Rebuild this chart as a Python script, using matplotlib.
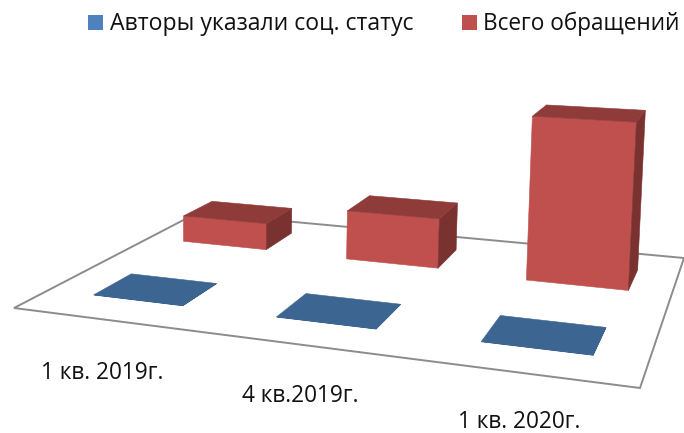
import numpy as np
import matplotlib
matplotlib.use("Agg")
import matplotlib.pyplot as plt
from matplotlib.patches import Polygon, Rectangle

categories = ["1 кв. 2019г.", "4 кв.2019г.", "1 кв. 2020г."]
series_names = ["Авторы указали соц. статус", "Всего обращений"]
status_values = [0.4, 0.4, 0.4]
total_values = [30, 54, 172]

# Layout of the perspective: floor corners in figure pixels and the vertical vanishing point
FLOOR = {"fl": (14, 308), "fr": (640, 388), "br": (684, 258), "bl": (197, 213)}
VANISH = (182, 9700)
BAR_D = 0.38
BAR_W_STATUS, BAR_W_TOTAL = 0.5, 0.525
TOTAL_U_NUDGE = [-0.004, 0.002, 0.008]
TOTAL_V_NUDGE = [0.03, 0.02, -0.005]
LAB_POS = [(102, 379), (300, 402), (519, 427.5)]

def homography(c):
    src = [(0, 0), (1, 0), (1, 1), (0, 1)]
    dst = [c["fl"], c["fr"], c["br"], c["bl"]]
    A, b = [], []
    for (u, v), (x, y) in zip(src, dst):
        A.append([u, v, 1, 0, 0, 0, -u * x, -v * x]); b.append(x)
        A.append([0, 0, 0, u, v, 1, -u * y, -v * y]); b.append(y)
    h = np.linalg.solve(np.array(A, float), np.array(b, float))
    return np.append(h, 1).reshape(3, 3)

H = homography(FLOOR)
K = -1 / (VANISH[1] - 300)

def project(u, v, z):
    p = H @ np.array([u, v, 1.0]) + z * K * np.array([VANISH[0], VANISH[1], 1.0])
    return p[0] / p[2], p[1] / p[2]

fig = plt.figure(figsize=(6.84, 4.33), dpi=100)
ax = fig.add_axes([0, 0, 1, 1])
ax.set_xlim(0, 684); ax.set_ylim(433, 0); ax.axis("off")

floor = [project(u, v, 0) for u, v in [(0, 0), (1, 0), (1, 1), (0, 1)]]
ax.add_patch(Polygon(floor, closed=True, fc="white", ec="#8c8c8c", lw=1.4, zorder=1))

def draw_bar(cat, ser, val, width, front, top, side, z, du_shift, dv_shift):
    du, dv = width / 3 / 2, BAR_D / 2 / 2
    uc, vc = (cat + 0.5) / 3 + du_shift, (ser + 0.5) / 2 + dv_shift
    u0, u1, v0, v1 = uc - du, uc + du, vc - dv, vc + dv
    faces = [
        ([(u0, v0, 0), (u1, v0, 0), (u1, v0, val), (u0, v0, val)], front),
        ([(u1, v0, 0), (u1, v1, 0), (u1, v1, val), (u1, v0, val)], side),
        ([(u0, v0, val), (u1, v0, val), (u1, v1, val), (u0, v1, val)], top),
    ]
    for pts, col in faces:
        ax.add_patch(Polygon([project(*p) for p in pts], closed=True, fc=col, ec=col, lw=0.4, zorder=z))

for i, val in enumerate(total_values):
    draw_bar(i, 1, val, BAR_W_TOTAL, "#C0504D", "#8F3B39", "#7A3230", 3 + i, TOTAL_U_NUDGE[i], TOTAL_V_NUDGE[i])
for i, val in enumerate(status_values):
    draw_bar(i, 0, val, BAR_W_STATUS, "#3A6391", "#3D6592", "#345781", 8 + i, 0.004, 0.0)

for lab, (x, y) in zip(categories, LAB_POS):
    ax.text(x, y, lab, ha="center", va="baseline", fontsize=16.3, family="Open Sans", color="#111111")

ax.add_patch(Rectangle((88, 15), 15, 15, fc="#4F81BD", ec="none"))
ax.add_patch(Rectangle((462, 15), 15, 15, fc="#C0504D", ec="none"))
ax.text(110, 30, series_names[0], fontsize=16.6, family="Open Sans", color="#111111", va="baseline")
ax.text(483, 30, series_names[1], fontsize=16.3, family="Open Sans", color="#111111", va="baseline")
fig.savefig("out.png", dpi=100)
